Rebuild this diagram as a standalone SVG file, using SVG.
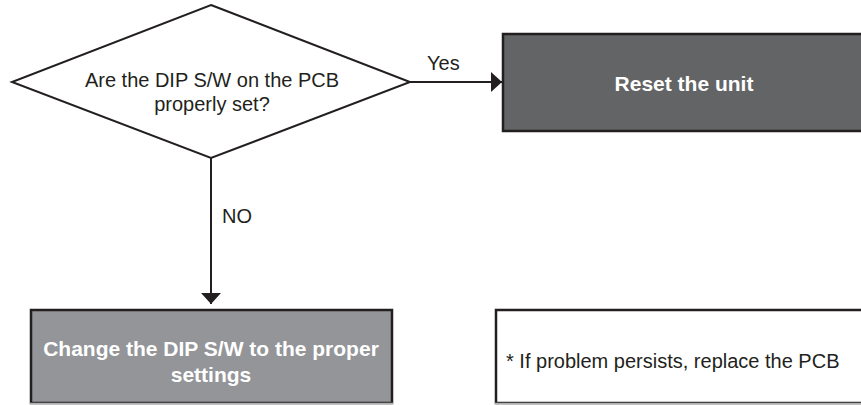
<svg xmlns="http://www.w3.org/2000/svg" width="861" height="405" viewBox="0 0 861 405">
  <style>
    .txt { font-family: "Liberation Sans", Arial, sans-serif; font-size: 20px; fill: #231f20; }
    .btxt { font-family: "Liberation Sans", Arial, sans-serif; font-size: 21px; font-weight: bold; fill: #ffffff; }
    .box { stroke: #231f20; stroke-width: 2.5; }
    .conn { stroke: #231f20; stroke-width: 2; fill: none; }
    .edge { stroke: #b0b0b0; stroke-width: 1.5; }
  </style>
  <defs>
    <marker id="arrow" viewBox="0 0 11 20" refX="11" refY="10" markerWidth="11" markerHeight="20" markerUnits="userSpaceOnUse" orient="auto">
      <path d="M0,0 L11,10 L0,20 Z" fill="#231f20"/>
    </marker>
  </defs>
  <rect width="861" height="405" fill="#ffffff"/>

  <g id="connectors">
    <line class="conn" x1="410" y1="82" x2="502" y2="82" marker-end="url(#arrow)"/>
    <line class="conn" x1="211" y1="158" x2="211" y2="304" marker-end="url(#arrow)"/>
    <text class="txt" x="427" y="70">Yes</text>
    <text class="txt" x="222" y="223">NO</text>
  </g>

  <g id="decision">
    <polygon points="211,5 410,82 211,158 12,82" fill="#ffffff" stroke="#231f20" stroke-width="2"/>
    <text class="txt" x="212" y="87" text-anchor="middle">Are the DIP S/W on the PCB</text>
    <text class="txt" x="212" y="111" text-anchor="middle">properly set?</text>
  </g>

  <g id="reset">
    <rect class="box" x="503" y="34" width="370" height="97" fill="#636466"/>
    <text class="btxt" x="684" y="91" text-anchor="middle">Reset the unit</text>
  </g>

  <g id="change">
    <rect class="box" x="31" y="310" width="361" height="93" fill="#939598"/>
    <line class="edge" x1="30" y1="403.5" x2="393" y2="403.5"/>
    <text class="btxt" x="211" y="356" text-anchor="middle" font-size="22">Change the DIP S/W to the proper</text>
    <text class="btxt" x="211" y="382" text-anchor="middle" font-size="22">settings</text>
  </g>

  <g id="note">
    <rect class="box" x="496" y="310" width="380" height="93" fill="#ffffff"/>
    <line class="edge" x1="495" y1="403.5" x2="861" y2="403.5"/>
    <text class="txt" x="506" y="368" font-size="20.5">* If problem persists, replace the PCB</text>
  </g>
</svg>
